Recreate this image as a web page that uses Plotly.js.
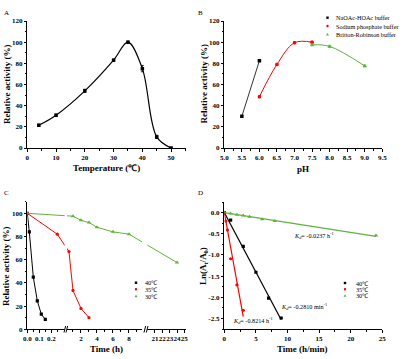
<!DOCTYPE html>
<html><head><meta charset="utf-8">
<script src="https://cdn.plot.ly/plotly-3.0.1.min.js"></script>
<style>html,body{margin:0;padding:0;background:#fff;}#c{width:403px;height:359px;}</style>
</head><body><div id="c"></div>
<script>
// ---- Data ----
// Panel A: temperature profile
const tempA = [4, 10, 20, 30, 35, 40, 45, 50];
const actA  = [21.5, 31, 54, 83, 100, 75, 10.5, 0];
const errA  = [1, 1, 1.5, 1, 1, 3, 1.5, 0.5];
// Panel B: pH profile
const phNaOAc = [5.5, 6.0];
const actNaOAc = [30, 82.5];
const phPhos = [6.0, 6.5, 7.0, 7.5];
const actPhos = [48.5, 79, 99.5, 100];
const phBR = [7.5, 8.0, 9.0];
const actBR = [97.5, 96, 77.5];
const legendB = ['NaOAc-HOAc buffer', 'Sodium phosphate buffer', 'Britton-Robinson buffer'];
// Panel C: thermostability (time in hours)
const t40 = [0, 0.0167, 0.05, 0.0833, 0.1167, 0.15];
const a40 = [100, 84, 45, 24.5, 13, 8.5];
const t35 = [0, 0.25, 0.5, 1, 2, 3];
const a35 = [100, 82, 67, 33.5, 18, 10];
const t30 = [0, 1, 2, 3, 4, 6, 8, 24];
const a30 = [100, 97.5, 94, 92, 88, 84, 82, 57.5];
const tickValsC = [0, 0.1, 0.2, 2, 4, 6, 8, 21, 22, 23, 24, 25];
const tickTextC = ['0.0', '0.1', '0.2', '2', '4', '6', '8', '21', '22', '23', '24', '25'];
const legendCD = ['40\u2103', '35\u2103', '30\u2103'];
// Panel D: inactivation kinetics
const tD40 = [0, 1, 3, 5, 7, 9];
const lnD40 = [0, -0.18, -0.80, -1.41, -2.02, -2.49];
const tD35 = [0, 0.25, 0.5, 1, 2, 3];
const lnD35 = [0, -0.2, -0.41, -1.09, -1.71, -2.31];
const tD30 = [0, 1, 2, 3, 4, 6, 8, 24];
const lnD30 = [0, -0.02, -0.05, -0.07, -0.10, -0.16, -0.20, -0.54];
const fit40x = [0, 9], fit40y = [0, -2.53];
const fit35x = [0, 3], fit35y = [0, -2.46];
const fit30x = [0, 24], fit30y = [0, -0.56];
const kdLabels = ['-0.0237 h<sup>-1</sup>', '-0.2810 min<sup>-1</sup>', '-0.8214 h<sup>-1</sup>'];
const tickValsDy = [0, -0.5, -1, -1.5, -2, -2.5];
const tickTextDy = ['0.0', '-0.5', '-1.0', '-1.5', '-2.0', '-2.5'];

// ---- Styling ----
const W = 403, H = 359;
const X = p => p / W, Y = p => 1 - p / H;
const BLK = '#000000', RED = '#ff0000', GRN = '#5eb43a';
const FONT = 'Liberation Serif, Times New Roman, serif';

// broken-axis transform for panel C (hours -> axis units)
function brk(v) {
  if (v <= 0.35) return 360 * v;
  if (v <= 15) return 161 + 24 * (v - 2);
  return 383 + 22 * (v - 21);
}

function axBase(extra) {
  return Object.assign({
    showline: true, linecolor: BLK, linewidth: 1, mirror: false,
    ticks: 'outside', ticklen: 2.5, tickwidth: 1, tickcolor: BLK, tickangle: 0,
    showgrid: false, zeroline: false, fixedrange: true,
    tickfont: {family: FONT, size: 7, color: BLK, weight: 'bold'}
  }, extra);
}
function mnr(o) { return Object.assign({ticks: 'outside', ticklen: 1.5, tickwidth: 1, tickcolor: BLK, showgrid: false}, o); }

const traces = [];
// Panel A
traces.push({x: tempA, y: actA, xaxis: 'x', yaxis: 'y', mode: 'lines+markers', showlegend: false,
  line: {color: BLK, width: 1.2, shape: 'spline', smoothing: 1},
  marker: {symbol: 'square', size: 3.5, color: BLK},
  error_y: {type: 'data', array: errA, visible: true, color: BLK, thickness: 0.8, width: 1.5}});
// Panel B
traces.push({x: phNaOAc, y: actNaOAc, xaxis: 'x2', yaxis: 'y2', mode: 'lines+markers', showlegend: false,
  line: {color: '#333333', width: 1}, marker: {symbol: 'square', size: 3.5, color: BLK}});
traces.push({x: phPhos, y: actPhos, xaxis: 'x2', yaxis: 'y2', mode: 'lines+markers', showlegend: false,
  line: {color: RED, width: 1, shape: 'spline', smoothing: 1}, marker: {symbol: 'circle', size: 3.5, color: RED},
  error_y: {type: 'constant', value: 1, color: RED, thickness: 0.8, width: 1.5}});
traces.push({x: phBR, y: actBR, xaxis: 'x2', yaxis: 'y2', mode: 'lines+markers', showlegend: false,
  line: {color: GRN, width: 1, shape: 'spline', smoothing: 1}, marker: {symbol: 'triangle-up', size: 4, color: GRN},
  error_y: {type: 'constant', value: 1, color: GRN, thickness: 0.8, width: 1.5}});
// Panel C
[[t40, a40, BLK, 'square'], [t35, a35, RED, 'circle'], [t30, a30, GRN, 'triangle-up']].forEach(s => {
  traces.push({x: s[0].map(brk), y: s[1], xaxis: 'x3', yaxis: 'y3', mode: 'lines+markers', showlegend: false,
    line: {color: s[2], width: 1}, marker: {symbol: s[3], size: s[3] === 'triangle-up' ? 4 : 3.2, color: s[2]}});
});
// Panel D
[[fit40x, fit40y, BLK], [fit35x, fit35y, RED], [fit30x, fit30y, GRN]].forEach(s => {
  traces.push({x: s[0], y: s[1], xaxis: 'x4', yaxis: 'y4', mode: 'lines', showlegend: false,
    line: {color: s[2], width: 1.2}});
});
[[tD40, lnD40, BLK, 'square'], [tD35, lnD35, RED, 'circle'], [tD30, lnD30, GRN, 'triangle-up']].forEach(s => {
  traces.push({x: s[0], y: s[1], xaxis: 'x4', yaxis: 'y4', mode: 'markers', showlegend: false,
    marker: {symbol: s[3], size: s[3] === 'triangle-up' ? 4 : 3.2, color: s[2]}});
});

// ---- Annotations & shapes ----
const ann = [];
const shapes = [];
function txt(x, y, t, o) {
  ann.push(Object.assign({xref: 'paper', yref: 'paper', x: X(x), y: Y(y), text: t, showarrow: false,
    xanchor: 'left', yanchor: 'middle', font: {family: FONT, size: 6.2, color: BLK}}, o || {}));
}
txt(1.5, 13, 'A', {font: {family: FONT, size: 7, color: BLK}});
txt(196, 13, 'B', {font: {family: FONT, size: 7, color: BLK}});
txt(1.5, 193, 'C', {font: {family: FONT, size: 7, color: BLK}});
txt(196, 193, 'D', {font: {family: FONT, size: 7, color: BLK}});

// Axis titles
const TF = {family: FONT, size: 9, color: BLK, weight: 'bold'};
txt(106, 168, 'Temperature (\u2103)', {xanchor: 'center', font: TF});
txt(302.5, 168.5, 'pH', {xanchor: 'center', font: TF});
txt(106, 349, 'Time (h)', {xanchor: 'center', font: TF});
txt(302, 349, 'Time (h/min)', {xanchor: 'center', font: TF});
txt(7, 85, 'Relative activity (%)', {xanchor: 'center', textangle: -90, font: TF});
txt(203.5, 84, 'Relative activity (%)', {xanchor: 'center', textangle: -90, font: TF});
txt(6, 267, 'Relative activity (%)', {xanchor: 'center', textangle: -90, font: TF});
txt(203, 266, 'Ln(A<sub>t</sub>/A<sub>0</sub>)', {xanchor: 'center', textangle: -90, font: TF});

function legMark(px, py, sym, col) {
  const r = 1.2;
  if (sym === 'square') {
    shapes.push({type: 'rect', xref: 'paper', yref: 'paper', x0: X(px - r), x1: X(px + r), y0: Y(py + r), y1: Y(py - r), fillcolor: col, line: {width: 0}});
  } else if (sym === 'circle') {
    shapes.push({type: 'circle', xref: 'paper', yref: 'paper', x0: X(px - r), x1: X(px + r), y0: Y(py + r), y1: Y(py - r), fillcolor: col, line: {width: 0}});
  } else {
    const path = 'M' + X(px - 1.5) + ',' + Y(py + 1.2) + ' L' + X(px + 1.5) + ',' + Y(py + 1.2) + ' L' + X(px) + ',' + Y(py - 1.4) + ' Z';
    shapes.push({type: 'path', xref: 'paper', yref: 'paper', path: path, fillcolor: col, line: {width: 0}});
  }
}
const syms = [['square', BLK], ['circle', RED], ['triangle', GRN]];
// Legend B
[17.7, 26, 34.3].forEach((py, i) => { legMark(327.5, py, syms[i][0], syms[i][1]); txt(333.5, py, legendB[i]); });
// Legend C
[282.7, 289.3, 296].forEach((py, i) => { legMark(136, py, syms[i][0], syms[i][1]); txt(143, py, legendCD[i]); });
// Legend D
[283, 289.3, 295.6].forEach((py, i) => { legMark(345, py, syms[i][0], syms[i][1]); txt(354, py, legendCD[i]); });
// Kd labels
const kd = '<i>K</i><sub><i>d</i></sub>= ';
txt(314, 236, kd + kdLabels[0], {xanchor: 'center'});
txt(303.5, 306.5, kd + kdLabels[1], {xanchor: 'center'});
txt(253, 320.5, kd + kdLabels[2], {xanchor: 'center'});

// Breaks in panel C axis
function brkShape(u0, u1, w0, w1) {
  shapes.push({type: 'rect', xref: 'x3', yref: 'paper', x0: w0, x1: w1, y0: Y(332), y1: Y(200), fillcolor: '#ffffff', line: {width: 0}, layer: 'above'});
  shapes.push({type: 'line', xref: 'x3', yref: 'paper', x0: u0, x1: u0 + 5, y0: Y(332.5), y1: Y(326), line: {color: BLK, width: 1}, layer: 'above'});
  shapes.push({type: 'line', xref: 'x3', yref: 'paper', x0: u1 - 5, x1: u1, y0: Y(332.5), y1: Y(326), line: {color: BLK, width: 1}, layer: 'above'});
}
brkShape(110, 121, 112, 119);
brkShape(350, 362, 344, 360);

const layout = {
  width: W, height: H, margin: {l: 0, r: 0, t: 0, b: 0},
  paper_bgcolor: '#ffffff', plot_bgcolor: 'rgba(0,0,0,0)', showlegend: false,
  font: {family: FONT, color: BLK},
  xaxis: axBase({domain: [X(27.3), X(185.5)], anchor: 'y', range: [0, 55], tickvals: [0, 10, 20, 30, 40, 50], tickmode: 'array',
    minor: mnr({tickvals: [5, 15, 25, 35, 45, 55]})}),
  yaxis: axBase({domain: [Y(148), Y(21)], anchor: 'x', range: [0, 120], dtick: 20, minor: mnr({dtick: 10})}),
  xaxis2: axBase({domain: [X(224.3), X(382.3)], anchor: 'y2', range: [5, 9.5], dtick: 0.5, tickformat: '.1f',
    minor: mnr({dtick: 0.25})}),
  yaxis2: axBase({domain: [Y(148), Y(21)], anchor: 'x2', range: [0, 120], dtick: 20, minor: mnr({dtick: 10})}),
  xaxis3: axBase({domain: [X(27.3), X(186)], anchor: 'y3', range: [0, 476],
    tickmode: 'array', tickvals: tickValsC.map(brk), ticktext: tickTextC,
    minor: mnr({tickvals: [0.05, 0.15, 0.25, 1, 3, 5, 7, 9].map(brk)})}),
  yaxis3: axBase({domain: [Y(329.3), Y(201.7)], anchor: 'x3', range: [0, 110], dtick: 20, minor: mnr({dtick: 10})}),
  xaxis4: axBase({domain: [X(224.3), X(382.3)], anchor: 'y4', range: [0, 25], dtick: 5, minor: mnr({dtick: 2.5})}),
  yaxis4: axBase({domain: [Y(329), Y(202)], anchor: 'x4', range: [-2.75, 0.25],
    tickmode: 'array', tickvals: tickValsDy, ticktext: tickTextDy,
    minor: mnr({tickvals: [0.25, -0.25, -0.75, -1.25, -1.75, -2.25, -2.75]})}),
  annotations: ann, shapes: shapes
};
Plotly.newPlot('c', traces, layout, {displayModeBar: false, staticPlot: true});
</script></body></html>
